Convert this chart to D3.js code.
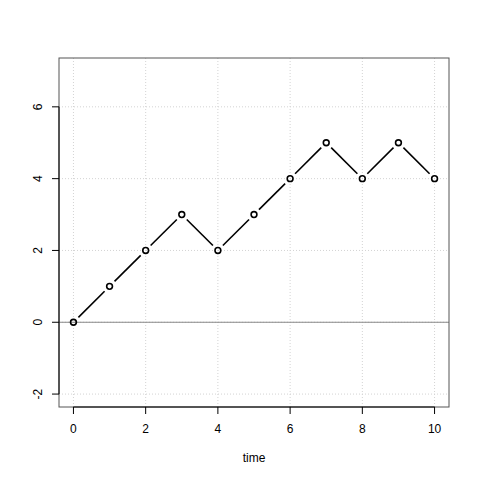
<!DOCTYPE html>
<html>
<head>
<meta charset="utf-8">
<script src="https://cdn.jsdelivr.net/npm/d3@7"></script>
<style>
  body { margin: 0; background: #fff; }
  text { font-family: "Liberation Sans", Arial, sans-serif; font-size: 12px; fill: #000; }
</style>
</head>
<body>
<script>
var times = [0, 1, 2, 3, 4, 5, 6, 7, 8, 9, 10];
var values = [0, 1, 2, 3, 2, 3, 4, 5, 4, 5, 4];
var xTicks = [0, 2, 4, 6, 8, 10];
var yTicks = [-2, 0, 2, 4, 6];

var svg = d3.select("body").append("svg")
  .attr("width", 480)
  .attr("height", 480);

var x = d3.scaleLinear().domain([-0.4, 10.4]).range([59, 449]);
var y = d3.scaleLinear().domain([-2.36, 7.36]).range([407, 58]);

// grid
svg.selectAll(".gx").data(xTicks).enter().append("line")
  .attr("x1", function(d) { return x(d); })
  .attr("x2", function(d) { return x(d); })
  .attr("y1", y.range()[0]).attr("y2", y.range()[1])
  .style("stroke", "#d3d3d3").style("stroke-dasharray", "1,2");
svg.selectAll(".gy").data(yTicks).enter().append("line")
  .attr("y1", function(d) { return y(d); })
  .attr("y2", function(d) { return y(d); })
  .attr("x1", x.range()[0]).attr("x2", x.range()[1])
  .style("stroke", "#d3d3d3").style("stroke-dasharray", "1,2");

// zero line
svg.append("line")
  .attr("x1", x.range()[0]).attr("x2", x.range()[1])
  .attr("y1", y(0)).attr("y2", y(0))
  .style("stroke", "#888");

// box
svg.append("rect")
  .attr("x", 59).attr("y", 58).attr("width", 390).attr("height", 349)
  .style("fill", "none").style("stroke", "#555");

// x axis
var xa = svg.append("g").attr("transform", "translate(0," + 407 + ")");
xa.append("line").attr("x1", x(0)).attr("x2", x(10)).style("stroke", "#000");
xa.selectAll(".t").data(xTicks).enter().append("line")
  .attr("x1", function(d) { return x(d); }).attr("x2", function(d) { return x(d); })
  .attr("y1", 0).attr("y2", 7).style("stroke", "#000");
xa.selectAll("text").data(xTicks).enter().append("text")
  .attr("x", function(d) { return x(d); }).attr("y", 26)
  .attr("text-anchor", "middle").text(function(d) { return d; });

// y axis
var ya = svg.append("g").attr("transform", "translate(" + 59 + ",0)");
ya.append("line").attr("y1", y(-2)).attr("y2", y(6)).style("stroke", "#000");
ya.selectAll(".t").data(yTicks).enter().append("line")
  .attr("y1", function(d) { return y(d); }).attr("y2", function(d) { return y(d); })
  .attr("x1", 0).attr("x2", -7).style("stroke", "#000");
ya.selectAll("text").data(yTicks).enter().append("text")
  .attr("transform", function(d) { return "translate(-17," + y(d) + ") rotate(-90)"; })
  .attr("text-anchor", "middle").text(function(d) { return d; });

svg.append("text").attr("x", 254).attr("y", 462)
  .attr("text-anchor", "middle").text("time");

// line segments with gaps (type = "b")
var pts = times.map(function(t, i) { return [x(t), y(values[i])]; });
var gap = 7;
var segs = d3.pairs(pts).map(function(p) {
  var dx = p[1][0] - p[0][0], dy = p[1][1] - p[0][1];
  var len = Math.sqrt(dx * dx + dy * dy);
  var ux = dx / len, uy = dy / len;
  return [p[0][0] + ux * gap, p[0][1] + uy * gap, p[1][0] - ux * gap, p[1][1] - uy * gap];
});
svg.selectAll(".seg").data(segs).enter().append("line")
  .attr("x1", function(d) { return d[0]; }).attr("y1", function(d) { return d[1]; })
  .attr("x2", function(d) { return d[2]; }).attr("y2", function(d) { return d[3]; })
  .style("stroke", "#000").style("stroke-width", 1.6);

svg.selectAll(".pt").data(pts).enter().append("circle")
  .attr("cx", function(d) { return d[0]; })
  .attr("cy", function(d) { return d[1]; })
  .attr("r", 2.9)
  .style("fill", "none").style("stroke", "#000").style("stroke-width", 1.6);
</script>
</body>
</html>
